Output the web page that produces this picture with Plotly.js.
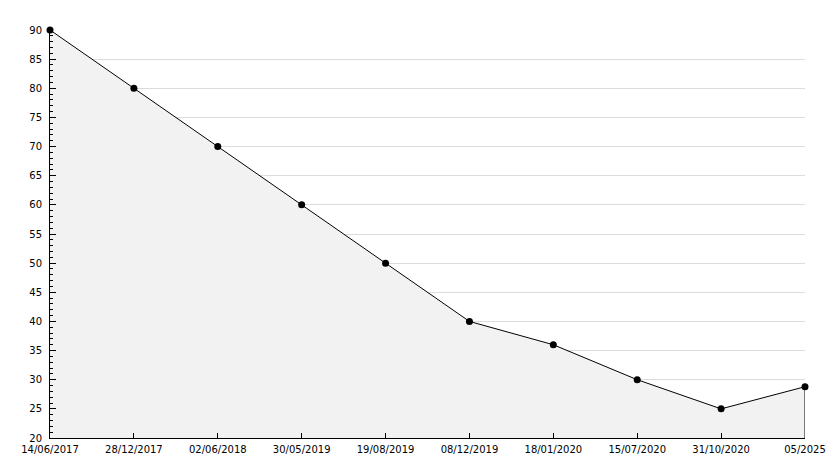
<!DOCTYPE html>
<html><head><meta charset="utf-8">
<script src="https://cdn.plot.ly/plotly-3.0.1.min.js"></script>
<style>html,body{margin:0;padding:0;background:#fff}#c{width:834px;height:468px}</style>
</head><body><div id="c"></div>
<script>
const dates = ["14/06/2017","28/12/2017","02/06/2018","30/05/2019","19/08/2019","08/12/2019","18/01/2020","15/07/2020","31/10/2020","05/2025"];
const values = [90,80,70,60,50,40,36,30,25,28.8];
const yMin = 20, yMax = 90;

const traces = [
  {x: dates, y: values, type:'scatter', mode:'lines+markers', fill:'tozeroy', fillcolor:'#f2f2f2',
   line:{color:'#000', width:1}, marker:{color:'#000', size:7, symbol:'circle'}, hoverinfo:'skip', cliponaxis:false},
  {x: [dates[dates.length-1], dates[dates.length-1]], y:[values[values.length-1], yMin], type:'scatter', mode:'lines',
   line:{color:'#000', width:1}, hoverinfo:'skip', cliponaxis:false}
];
const layout = {
  width:834, height:468, showlegend:false,
  margin:{l:50, r:29, t:30, b:30},
  paper_bgcolor:'#fff', plot_bgcolor:'#fff',
  font:{family:'DejaVu Sans, Verdana, sans-serif', size:10, color:'#000'},
  xaxis:{type:'category', categoryorder:'array', categoryarray:dates, range:[0, dates.length-1], showgrid:false, zeroline:false,
    showline:true, linecolor:'#000', linewidth:1, ticks:'inside', ticklen:5, tickcolor:'#000', tickangle:0, automargin:false,
    ticklabelstandoff:2},
  yaxis:{range:[yMin, yMax], dtick:5, tick0:0, showgrid:true, gridcolor:'#dcdcdc', gridwidth:1, zeroline:false,
    showline:true, linecolor:'#000', linewidth:1, ticks:'inside', ticklen:6, tickcolor:'#000', automargin:false,
    ticklabelstandoff:5,
    minor:{dtick:1, ticks:'inside', ticklen:3, tickcolor:'#000', showgrid:false}}
};
Plotly.newPlot('c', traces, layout, {staticPlot:true});
</script></body></html>
